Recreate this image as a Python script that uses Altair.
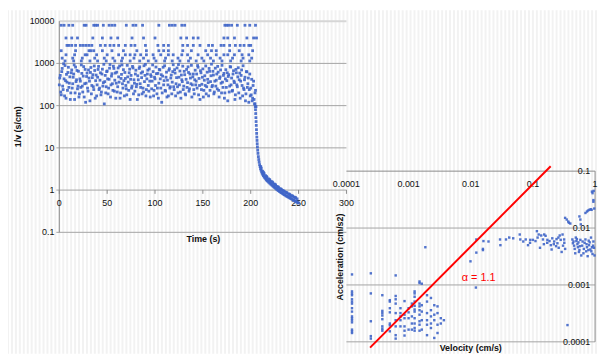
import altair as alt
import pandas as pd

# ---------------- LEFT PANEL DATA : 1/v (s/cm) vs Time (s) ----------------
cloud_t = [
    0, 1, 2, 3, 4, 5, 6, 7, 8, 9, 10, 11, 12, 13, 14, 15, 16, 17, 18, 19,
    20, 21, 22, 23, 24, 25, 26, 27, 28, 29, 30, 31, 32, 33, 34, 35, 36, 37, 38, 39,
    40, 41, 42, 43, 44, 45, 46, 47, 48, 49, 50, 51, 52, 53, 54, 55, 56, 57, 58, 59,
    60, 61, 62, 63, 64, 65, 66, 67, 68, 69, 70, 71, 72, 73, 74, 75, 76, 77, 78, 79,
    80, 81, 82, 83, 84, 85, 86, 87, 88, 89, 90, 91, 92, 93, 94, 95, 96, 97, 98, 99,
    100, 101, 102, 103, 104, 105, 106, 107, 108, 109, 110, 111, 112, 113, 114, 115, 116, 117, 118, 119,
    120, 121, 122, 123, 124, 125, 126, 127, 128, 129, 130, 131, 132, 133, 134, 135, 136, 137, 138, 139,
    140, 141, 142, 143, 144, 145, 146, 147, 148, 149, 150, 151, 152, 153, 154, 155, 156, 157, 158, 159,
    160, 161, 162, 163, 164, 165, 166, 167, 168, 169, 170, 171, 172, 173, 174, 175, 176, 177, 178, 179,
    180, 181, 182, 183, 184, 185, 186, 187, 188, 189, 190, 191, 192, 193, 194, 195, 196, 197, 198, 199,
    200, 201, 202, 203, 204, 205,
]
cloud_a = [
    310, 520, 180, 760, 240, 430, 890, 150, 360, 610, 270, 480, 200, 700, 330, 560, 140, 820, 410, 250,
    650, 190, 380, 920, 290, 500, 160, 720, 340, 590, 220, 450, 130, 800, 300, 540, 240, 680, 390, 170,
    470, 850, 260, 600, 210, 730, 350, 110, 520, 280, 660, 190, 420, 940, 310, 570, 230, 760, 400, 150,
    620, 280, 480, 870, 200, 550, 330, 710, 170, 440, 250, 900, 360, 600, 140, 520, 290, 780, 410, 220,
    690, 320, 510, 180, 830, 270, 460, 630, 210, 370, 950, 240, 560, 300, 740, 160, 490, 380, 640, 230,
    430, 820, 190, 580, 340, 700, 260, 120, 500, 310, 880, 220, 620, 400, 170, 750, 280, 530, 360, 930,
    240, 590, 330, 780, 200, 470, 660, 150, 410, 860, 290, 540, 180, 720, 350, 610, 250, 450, 900, 310,
    560, 190, 690, 380, 260, 810, 440, 140, 600, 320, 740, 230, 510, 870, 280, 420, 170, 650, 370, 960,
    300, 530, 210, 770, 400, 250, 620, 160, 480, 340, 900, 270, 580, 200, 710, 390, 130, 540, 290, 820,
    450, 230, 670, 350, 180, 600, 280, 790, 410, 150, 520, 300, 880, 240, 470, 190, 630, 330, 120, 560,
    260, 420, 150, 380, 110, 230,
]
cloud_b = [
    450, 210, 640, 290, 980, 170, 390, 550, 230, 810, 340, 140, 600, 260, 470, 920, 200, 370, 680, 290,
    160, 430, 270, 580, 210, 840, 330, 120, 490, 260, 700, 380, 610, 190, 460, 280, 870, 150, 530, 310,
    720, 240, 400, 180, 560, 290, 950, 370, 200, 640, 430, 260, 770, 160, 500, 330, 860, 220, 590, 340,
    210, 780, 360, 150, 440, 920, 260, 390, 610, 300, 180, 480, 230, 730, 420, 260, 850, 190, 340, 560,
    280, 140, 410, 760, 330, 590, 190, 260, 880, 520, 170, 430, 690, 220, 380, 540, 250, 920, 170, 470,
    300, 570, 260, 150, 720, 430, 540, 200, 810, 390, 230, 470, 160, 310, 690, 260, 450, 190, 640, 280,
    710, 170, 460, 280, 940, 310, 210, 530, 370, 240, 650, 190, 420, 270, 830, 220, 560, 330, 160, 480,
    240, 410, 310, 560, 890, 180, 300, 670, 240, 470, 160, 400, 300, 190, 620, 350, 760, 230, 510, 280,
    650, 190, 380, 290, 560, 850, 230, 440, 700, 200, 360, 520, 150, 430, 270, 600, 490, 210, 840, 310,
    220, 560, 380, 140, 720, 310, 480, 200, 590, 380, 700, 170, 260, 410, 130, 640, 270, 450, 240, 170,
    180, 130, 300, 140, 200, 95,
]

# quantised upper rows (1/v = 8000/n)
top_levels = [8000, 4000, 2667, 2000, 1600, 1333, 1143]
top_times = [
    [2, 5, 10, 14, 26, 28, 36, 38, 40, 46, 52, 55, 58, 70, 77, 80, 87, 104, 115, 118, 121, 128, 131,
     173, 175, 177, 180, 186, 194, 199, 205],
    [7, 13, 19, 35, 45, 54, 61, 76, 88, 100, 127, 133, 140, 145, 172, 176, 183, 196, 203, 206],
    [8, 10, 13, 17, 22, 25, 28, 31, 34, 43, 48, 53, 57, 62, 69, 75, 79, 90, 103, 109, 114, 129, 134,
     140, 147, 156, 160, 169, 172, 178, 184, 189, 193, 198, 200],
    [2, 17, 31, 33, 36, 45, 55, 67, 81, 91, 104, 109, 114, 129, 138, 153, 159, 164, 178, 188, 202],
    [7, 16, 27, 29, 39, 50, 62, 69, 74, 79, 85, 91, 98, 106, 114, 119, 128, 134, 145, 155, 164, 172,
     176, 183, 191, 198],
    [3, 14, 24, 37, 47, 56, 66, 78, 88, 99, 111, 124, 137, 149, 158, 168, 181, 192, 201],
    [6, 15, 23, 32, 40, 49, 58, 65, 74, 84, 93, 101, 110, 118, 126, 135, 143, 151, 161, 170, 179, 190,
     199],
]

# deceleration tail
curve_t = [204.5, 204.8, 205.0, 205.2, 205.4, 205.6, 205.8, 206.0, 206.2, 206.4, 206.6, 206.8, 207.0,
           207.3, 207.6, 208.0, 208.4, 208.8, 209.3, 209.8, 210.3, 210.8, 211.4, 212, 212.6, 213.2, 214,
           214.8, 215.6, 216.4, 217.2, 218, 219, 220, 221, 222, 223, 224, 225, 226, 227, 228, 229, 230,
           231, 232, 233, 234, 235, 236, 237, 238, 239, 240, 241, 242, 243, 244, 245, 246, 247, 248,
           249, 250]
curve_v = [110, 95, 80, 65, 52, 42, 34, 27, 22, 18, 15, 12.5, 10.5, 8.8, 7.4, 6.2, 5.3, 4.6, 4.0, 3.6,
           3.2, 2.95, 2.7, 2.5, 2.35, 2.2, 2.05, 1.95, 1.85, 1.75, 1.68, 1.6, 1.52, 1.45, 1.38, 1.32,
           1.26, 1.2, 1.15, 1.1, 1.05, 1.01, 0.97, 0.93, 0.9, 0.87, 0.84, 0.81, 0.78, 0.76, 0.73, 0.71,
           0.69, 0.67, 0.65, 0.63, 0.61, 0.59, 0.57, 0.555, 0.54, 0.525, 0.51, 0.495]
band_t = [210.5, 211, 212.5, 213.5, 214, 215.5, 216.5, 217, 218.5, 219.5, 220, 221.5, 222.5, 223, 224.5,
          225.5, 226, 227.5, 228.5, 229, 230.5, 231.5, 232, 233.5, 234.5, 235, 236.5, 237.5, 238, 239.5,
          240.5, 241, 242.5, 243.5, 244, 245.5, 246.5, 247, 248.5]
band_v = [3.6, 3.3, 2.8, 2.6, 2.45, 2.2, 2.1, 2.0, 1.85, 1.78, 1.72, 1.6, 1.55, 1.5, 1.4, 1.36, 1.3,
          1.22, 1.19, 1.15, 1.08, 1.06, 1.03, 0.98, 0.95, 0.93, 0.89, 0.87, 0.85, 0.81, 0.8, 0.77, 0.74,
          0.73, 0.71, 0.68, 0.67, 0.65, 0.62]

left_y_ticks = [0.1, 1, 10, 100, 1000, 10000]
left_y_labels = ["0.1", "1", "10", "100", "1000", "10000"]
left_x_ticks = [0, 50, 100, 150, 200, 250, 300]

# ---------------- RIGHT PANEL DATA : Acceleration vs Velocity ----------------
low_col_v = [1.23e-4, 2.47e-4, 3.78e-4, 4.99e-4, 6.2e-4, 7.4e-4, 8.6e-4, 1.0e-3, 1.13e-3, 1.25e-3,
             1.5e-3, 1.63e-3, 1.98e-3, 2.29e-3, 2.59e-3, 2.92e-3, 3.3e-3, 3.7e-3]
low_col_a = [
    [1.53e-3, 7.7e-4, 7.1e-4, 6.6e-4, 5.6e-4, 5.1e-4, 4.7e-4, 3.9e-4, 3.4e-4, 2.8e-4, 2.6e-4, 2.4e-4,
     2.2e-4, 1.64e-4, 1.53e-4, 1.43e-4],
    [1.6e-3, 7.1e-4, 2.3e-4, 1.26e-4, 1.14e-4],
    [6.6e-4, 3.5e-4, 3.2e-4, 2.9e-4, 2.5e-4, 1.87e-4, 1.7e-4, 1.57e-4],
    [5.4e-4, 5.1e-4, 3.9e-4, 3.3e-4, 2.1e-4, 1.95e-4, 1.53e-4],
    [1.47e-3, 6.4e-4, 5.6e-4, 4.7e-4, 3.2e-4, 2.4e-4, 1.87e-4, 1.31e-4, 1.14e-4],
    [3.9e-4, 3.2e-4, 2.8e-4, 2.4e-4, 1.87e-4],
    [5.2e-4, 3.0e-4, 2.6e-4, 1.87e-4, 1.57e-4, 1.29e-4],
    [3.9e-4, 3.3e-4, 2.6e-4, 1.64e-4],
    [4.7e-4, 4.2e-4, 2.8e-4, 2.1e-4, 1.64e-4],
    [7.7e-4, 7.1e-4, 6.2e-4, 5.1e-4, 4.3e-4, 3.7e-4, 3.4e-4, 2.6e-4, 2.1e-4, 1.75e-4, 1.57e-4],
    [1.15e-3, 1.08e-3, 4.7e-4, 4.2e-4, 3.6e-4, 3.0e-4, 2.3e-4, 2.0e-4, 1.57e-4],
    [1.05e-3, 4.4e-4, 3.4e-4, 2.4e-4, 1.64e-4],
    [6.6e-4, 5.1e-4, 3.2e-4, 2.4e-4, 2.0e-4, 1.31e-4],
    [5.9e-4, 3.6e-4, 2.8e-4, 2.1e-4, 1.75e-4],
    [4.4e-4, 3.0e-4, 2.4e-4, 1.17e-4],
    [4.2e-4, 3.2e-4, 2.0e-4, 1.43e-4],
    [2.6e-4, 2.1e-4],
    [2.4e-4],
]
mid_v = [0.00186, 0.0099, 0.0121, 0.0123, 0.0123, 0.016, 0.0157, 0.0157, 0.0193, 0.0296, 0.030, 0.0369,
         0.0416, 0.0482, 0.0614, 0.0627, 0.07, 0.0766, 0.0834, 0.09, 0.0906, 0.1, 0.11, 0.116, 0.119,
         0.124, 0.13, 0.136, 0.145, 0.15, 0.152, 0.16, 0.17, 0.171, 0.185, 0.194, 0.2, 0.205, 0.217,
         0.22, 0.236, 0.24, 0.248, 0.257, 0.26, 0.27, 0.28, 0.29, 0.30, 0.305, 0.318, 0.32, 0.33]
mid_a = [0.0046, 0.0026, 0.0009, 0.0063, 0.0037, 0.0059, 0.0043, 0.0041, 0.0058, 0.0063, 0.005, 0.0063,
         0.0068, 0.0066, 0.0077, 0.0063, 0.0058, 0.0063, 0.005, 0.0055, 0.0062, 0.0062, 0.0059, 0.0088,
         0.0068, 0.0077, 0.0045, 0.0074, 0.0063, 0.0052, 0.0077, 0.0073, 0.0055, 0.0062, 0.0059, 0.005,
         0.0042, 0.0066, 0.0052, 0.0058, 0.0048, 0.0064, 0.0054, 0.0068, 0.0045, 0.0074, 0.0062, 0.0038,
         0.0077, 0.0049, 0.0063, 0.0055, 0.0043]
high_v = [0.33, 0.35, 0.37, 0.38, 0.40, 0.56, 0.58, 0.59, 0.70, 0.74, 0.77, 0.81, 0.85, 0.88, 0.89,
          0.91, 0.94, 0.94, 0.97, 0.95,
          0.431, 0.44, 0.46, 0.47, 0.49, 0.50, 0.52, 0.53, 0.55, 0.56, 0.58, 0.60, 0.62, 0.66, 0.68,
          0.72, 0.74, 0.76, 0.79, 0.80, 0.84, 0.86, 0.89, 0.91, 0.94, 0.96, 0.98, 0.45, 0.48, 0.51,
          0.54, 0.57, 0.63, 0.65, 0.70, 0.73, 0.78, 0.82, 0.87, 0.93, 0.36]
high_a = [0.0151, 0.0141, 0.013, 0.0124, 0.012, 0.016, 0.0141, 0.0116, 0.0184, 0.0195, 0.0203, 0.0209,
          0.0214, 0.0209, 0.0437, 0.041, 0.031, 0.029, 0.022, 0.045,
          0.0063, 0.0054, 0.0049, 0.0043, 0.0068, 0.0059, 0.0052, 0.0046, 0.0038, 0.0041, 0.0062,
          0.0033, 0.0049, 0.0043, 0.0055, 0.0039, 0.0046, 0.0032, 0.006, 0.005, 0.0042, 0.0068, 0.0046,
          0.0035, 0.0058, 0.0045, 0.0033, 0.0058, 0.0036, 0.0064, 0.0056, 0.0048, 0.0058, 0.0036,
          0.0063, 0.0052, 0.0041, 0.0056, 0.0039, 0.0049, 0.000197]

fit_v = [0.00024, 0.193]       # red power-law guide, alpha = 1.1
fit_a = [0.000079, 0.122]
alpha_label = ["\u03b1 = 1.1"]
alpha_v = [0.0134]
alpha_a = [0.00131]

right_x_ticks = [0.0001, 0.001, 0.01, 0.1, 1]
right_x_labels = ["0.0001", "0.001", "0.01", "0.1", "1"]
right_y_ticks = [0.1, 0.01, 0.001, 0.0001]
right_y_labels = ["0.1", "0.01", "0.001", "0.0001"]

# ---------------- build tables ----------------
rows = []
for t, a, b in zip(cloud_t, cloud_a, cloud_b):
    rows.append((t, a))
    rows.append((t + 0.5, b))
for lvl, ts in zip(top_levels, top_times):
    for t in ts:
        rows.append((t, lvl))
for t, v in zip(curve_t, curve_v):
    rows.append((t, v))
for t, v in zip(band_t, band_v):
    rows.append((t, v))
left_df = pd.DataFrame(rows, columns=["t", "inv"])

rrows = []
for v, col in zip(low_col_v, low_col_a):
    for a in col:
        rrows.append((v, a))
rrows += list(zip(mid_v, mid_a))
rrows += list(zip(high_v, high_a))
right_df = pd.DataFrame(rrows, columns=["vel", "acc"])

# ---------------- scales (pixel ranges place the two panels) ----------------
FONT = "Liberation Sans"
BLUE = "#3f65c8"
GRID = "#a3a3a3"
AXIS = "#8a8a8a"

lx = alt.Scale(domain=[0, 300], range=[52, 343], nice=False, zero=False)
ly = alt.Scale(type="log", domain=[0.1, 10000], range=[225, 11], nice=False)
rx = alt.Scale(type="log", domain=[0.0001, 1], range=[343, 595], nice=False)
ry = alt.Scale(type="log", domain=[0.0001, 0.1], range=[336, 163], nice=False)

one = pd.DataFrame({"k": [0]})

# faint vertical stripes of the slide background
stripes = alt.Chart(alt.sequence(0, 600, 4, as_="px")).mark_rule(
    color="#f2f2f2", strokeWidth=2).encode(
    x=alt.X("px:Q", scale=None, axis=None), y=alt.value(0), y2=alt.value(348))

# left panel decorations
lgrid = alt.Chart(pd.DataFrame({"g": left_y_ticks[:-1]})).mark_rule(color=GRID, strokeWidth=1).encode(
    y=alt.Y("g:Q", scale=ly, axis=None), x=alt.value(49), x2=alt.value(343))
ltop = alt.Chart(pd.DataFrame({"g": left_y_ticks[-1:]})).mark_rule(color="#d6d6d6", strokeWidth=2).encode(
    y=alt.Y("g:Q", scale=ly, axis=None), x=alt.value(52), x2=alt.value(343))
laxis = alt.Chart(one).mark_rule(color=AXIS, strokeWidth=1).encode(
    x=alt.value(52), y=alt.value(11), y2=alt.value(225))
lticks = alt.Chart(pd.DataFrame({"t": left_x_ticks})).mark_rule(color=AXIS).encode(
    x=alt.X("t:Q", scale=lx, axis=None), y=alt.value(182), y2=alt.value(186))
lylab = alt.Chart(pd.DataFrame({"g": left_y_ticks, "lab": left_y_labels})).mark_text(
    align="right", baseline="middle", fontSize=9, font=FONT, color="#111").encode(
    y=alt.Y("g:Q", scale=ly, axis=None), x=alt.value(47), text="lab:N")
lxlab = alt.Chart(pd.DataFrame({"t": left_x_ticks, "lab": [str(v) for v in left_x_ticks]})).mark_text(
    align="center", baseline="middle", fontSize=9, font=FONT, color="#111").encode(
    x=alt.X("t:Q", scale=lx, axis=None), y=alt.value(195), text="lab:N")
lytitle = alt.Chart(pd.DataFrame({"s": ["1/v (s/cm)"]})).mark_text(
    angle=270, fontSize=9, fontWeight="bold", font=FONT, color="#111", baseline="middle").encode(
    x=alt.value(10), y=alt.value(118), text="s:N")
lxtitle = alt.Chart(pd.DataFrame({"s": ["Time (s)"]})).mark_text(
    fontSize=9, fontWeight="bold", font=FONT, color="#111", baseline="middle").encode(
    x=alt.value(198), y=alt.value(232), text="s:N")
lpts = alt.Chart(left_df).mark_square(size=8, color=BLUE, opacity=0.9).encode(
    x=alt.X("t:Q", scale=lx, axis=None), y=alt.Y("inv:Q", scale=ly, axis=None))

# right panel decorations
rgrid = alt.Chart(pd.DataFrame({"g": right_y_ticks[1:]})).mark_rule(color=GRID, strokeWidth=1).encode(
    y=alt.Y("g:Q", scale=ry, axis=None), x=alt.value(343), x2=alt.value(595))
rtop = alt.Chart(pd.DataFrame({"g": right_y_ticks[:1]})).mark_rule(color=AXIS, strokeWidth=1).encode(
    y=alt.Y("g:Q", scale=ry, axis=None), x=alt.value(343), x2=alt.value(595))
raxis = alt.Chart(one).mark_rule(color=AXIS, strokeWidth=1).encode(
    x=alt.value(595), y=alt.value(163), y2=alt.value(336))
rxlab = alt.Chart(pd.DataFrame({"v": right_x_ticks, "lab": right_x_labels})).mark_text(
    align="center", baseline="middle", fontSize=9, font=FONT, color="#111").encode(
    x=alt.X("v:Q", scale=rx, axis=None), y=alt.value(176), text="lab:N")
rylab = alt.Chart(pd.DataFrame({"g": right_y_ticks, "lab": right_y_labels})).mark_text(
    align="right", baseline="middle", fontSize=9, font=FONT, color="#111").encode(
    y=alt.Y("g:Q", scale=ry, axis=None), x=alt.value(590), text="lab:N")
rytitle = alt.Chart(pd.DataFrame({"s": ["Acceleration (cm/s2)"]})).mark_text(
    angle=270, fontSize=9, fontWeight="bold", font=FONT, color="#111", baseline="middle").encode(
    x=alt.value(337), y=alt.value(250), text="s:N")
rxtitle = alt.Chart(pd.DataFrame({"s": ["Velocity (cm/s)"]})).mark_text(
    fontSize=9, fontWeight="bold", font=FONT, color="#111", baseline="middle").encode(
    x=alt.value(469), y=alt.value(342), text="s:N")
rpts = alt.Chart(right_df).mark_square(size=6, color=BLUE, opacity=0.9).encode(
    x=alt.X("vel:Q", scale=rx, axis=None), y=alt.Y("acc:Q", scale=ry, axis=None))
fit = alt.Chart(pd.DataFrame({"vel": fit_v, "acc": fit_a})).mark_line(color="#ff0000", strokeWidth=2).encode(
    x=alt.X("vel:Q", scale=rx, axis=None), y=alt.Y("acc:Q", scale=ry, axis=None))
alpha = alt.Chart(pd.DataFrame({"vel": alpha_v, "acc": alpha_a, "s": alpha_label})).mark_text(
    fontSize=11, font=FONT, color="#ff0000", baseline="middle").encode(
    x=alt.X("vel:Q", scale=rx, axis=None), y=alt.Y("acc:Q", scale=ry, axis=None), text="s:N")

chart = alt.layer(
    stripes,
    ltop, lgrid, laxis, lticks, lylab, lxlab, lytitle, lxtitle, lpts,
    rgrid, rtop, raxis, rxlab, rylab, rytitle, rxtitle, rpts, fit, alpha,
).resolve_scale(x="independent", y="independent").properties(
    width=600, height=348, padding=0, autosize=alt.AutoSizeParams(type="none"),
    background="white",
).configure_view(stroke=None)

chart.save("out.html", embed_options={"renderer": "svg", "actions": False})
